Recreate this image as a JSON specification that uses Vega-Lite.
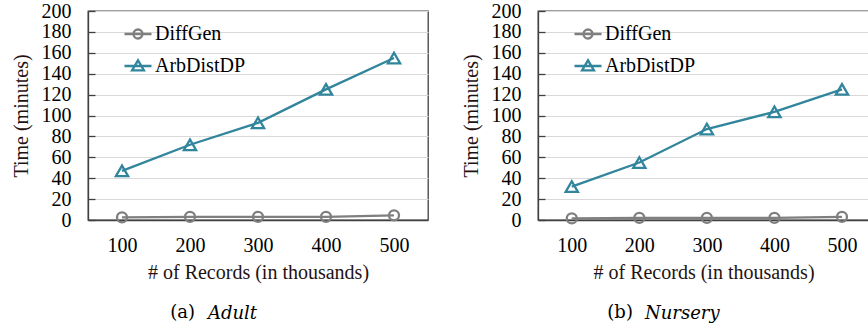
{
  "$schema": "https://vega.github.io/schema/vega-lite/v6.json",
  "padding": {"left": 10, "top": 0, "right": 0, "bottom": 0},
  "background": "white",
  "config": {
    "font": "'Liberation Serif', serif",
    "view": {"stroke": "#404040", "strokeWidth": 1.3},
    "axis": {
      "labelFont": "'Liberation Serif', serif", "labelFontSize": 20, "labelColor": "#000000",
      "titleFont": "'Liberation Serif', serif", "titleFontSize": 20, "titleFontWeight": "normal", "titleColor": "#1f1212",
      "domainColor": "#404040", "domainWidth": 1.3
    },
    "legend": {
      "orient": "none", "legendX": 35, "legendY": 8, "padding": 0,
      "symbolSize": 729, "symbolStrokeWidth": 2.3,
      "labelFont": "'Liberation Serif', serif", "labelFontSize": 20, "labelColor": "#000000",
      "labelOffset": 2, "rowPadding": 7
    },
    "title": {"font": "'DejaVu Serif', serif", "fontSize": 18, "fontWeight": "normal", "color": "#000000", "orient": "bottom", "anchor": "start", "frame": "bounds", "align": "left"}
  },
  "datasets": {
    "adult": [
      {"records": 100, "series": "DiffGen", "time": 2.5},
      {"records": 200, "series": "DiffGen", "time": 3},
      {"records": 300, "series": "DiffGen", "time": 3},
      {"records": 400, "series": "DiffGen", "time": 3},
      {"records": 500, "series": "DiffGen", "time": 4.5},
      {"records": 100, "series": "ArbDistDP", "time": 47},
      {"records": 200, "series": "ArbDistDP", "time": 72},
      {"records": 300, "series": "ArbDistDP", "time": 93},
      {"records": 400, "series": "ArbDistDP", "time": 125},
      {"records": 500, "series": "ArbDistDP", "time": 155}
    ],
    "nursery": [
      {"records": 100, "series": "DiffGen", "time": 1.5},
      {"records": 200, "series": "DiffGen", "time": 2},
      {"records": 300, "series": "DiffGen", "time": 2},
      {"records": 400, "series": "DiffGen", "time": 2},
      {"records": 500, "series": "DiffGen", "time": 3},
      {"records": 100, "series": "ArbDistDP", "time": 32},
      {"records": 200, "series": "ArbDistDP", "time": 55},
      {"records": 300, "series": "ArbDistDP", "time": 87},
      {"records": 400, "series": "ArbDistDP", "time": 103.5},
      {"records": 500, "series": "ArbDistDP", "time": 125}
    ]
  },
  "spacing": 31,
  "resolve": {
    "scale": {"color": "independent", "shape": "independent"},
    "legend": {"color": "independent", "shape": "independent"}
  },
  "hconcat": [
    {
      "title": {"text": "(a)", "dx": 160, "offset": -20},
      "resolve": {
        "scale": {"color": "independent", "shape": "independent"},
        "legend": {"color": "independent", "shape": "independent"}
      },
      "vconcat": [
        {
          "width": 340, "height": 209,
          "data": {"name": "adult"},
          "title": {"text": "Adult", "dx": 197, "offset": 23, "fontStyle": "italic"},
          "encoding": {
            "x": {
              "field": "records", "type": "quantitative",
              "scale": {"domain": [50, 550], "nice": false, "zero": false},
              "axis": {"values": [100, 200, 300, 400, 500], "grid": false, "ticks": false,
                       "labelPadding": 15, "title": "# of Records (in thousands)", "titlePadding": 7}
            },
            "y": {
              "field": "time", "type": "quantitative",
              "scale": {"domain": [0, 200], "nice": false},
              "axis": {"values": [0, 20, 40, 60, 80, 100, 120, 140, 160, 180, 200],
                       "grid": true, "gridColor": "#d9d9d9", "gridWidth": 1,
                       "tickSize": -7, "tickColor": "#404040", "tickWidth": 1.3,
                       "labelPadding": 24, "title": "Time (minutes)", "titlePadding": 10}
            }
          },
          "layer": [
            {
              "mark": {"type": "line", "strokeWidth": 2.3},
              "encoding": {
                "color": {
                  "field": "series", "type": "nominal",
                  "scale": {"domain": ["DiffGen", "ArbDistDP"], "range": ["#7f7f7f", "#31859c"]},
                  "legend": {
                    "title": null,
                    "encode": {"symbols": {"update": {
                      "shape": {"signal": "datum.value === 'DiffGen' ? 'M-1,0L1,0M-0.333,0A0.333,0.333 0 1,1 0.333,0A0.333,0.333 0 1,1 -0.333,0Z' : 'M-1,0L1,0M-0.44,0.33L0.44,0.33L0,-0.42Z'"},
                      "fill": {"value": "transparent"},
                      "strokeWidth": {"value": 2.3}
                    }}}
                  }
                }
              }
            },
            {
              "transform": [{"filter": "datum.series === 'DiffGen'"}],
              "mark": {"type": "point", "shape": "circle", "filled": false, "size": 100, "strokeWidth": 2.3, "color": "#7f7f7f", "opacity": 1}
            },
            {
              "transform": [{"filter": "datum.series === 'ArbDistDP'"}],
              "mark": {"type": "point", "shape": "triangle-up", "filled": false, "size": 150, "strokeWidth": 2.3, "color": "#31859c", "opacity": 1}
            }
          ]
        }
      ]
    },
    {
      "title": {"text": "(b)", "dx": 147, "offset": -20},
      "resolve": {
        "scale": {"color": "independent", "shape": "independent"},
        "legend": {"color": "independent", "shape": "independent"}
      },
      "vconcat": [
        {
          "width": 331, "height": 209,
          "data": {"name": "nursery"},
          "title": {"text": "Nursery", "dx": 184, "offset": 23, "fontStyle": "italic"},
          "encoding": {
            "x": {
              "field": "records", "type": "quantitative",
              "scale": {"domain": [50, 540], "nice": false, "zero": false},
              "axis": {"values": [100, 200, 300, 400, 500], "grid": false, "ticks": false,
                       "labelPadding": 15, "title": "# of Records (in thousands)", "titlePadding": 7}
            },
            "y": {
              "field": "time", "type": "quantitative",
              "scale": {"domain": [0, 200], "nice": false},
              "axis": {"values": [0, 20, 40, 60, 80, 100, 120, 140, 160, 180, 200],
                       "grid": true, "gridColor": "#d9d9d9", "gridWidth": 1,
                       "tickSize": -7, "tickColor": "#404040", "tickWidth": 1.3,
                       "labelPadding": 24, "title": "Time (minutes)", "titlePadding": 10}
            }
          },
          "layer": [
            {
              "mark": {"type": "line", "strokeWidth": 2.3},
              "encoding": {
                "color": {
                  "field": "series", "type": "nominal",
                  "scale": {"domain": ["DiffGen", "ArbDistDP"], "range": ["#7f7f7f", "#31859c"]},
                  "legend": {
                    "title": null,
                    "encode": {"symbols": {"update": {
                      "shape": {"signal": "datum.value === 'DiffGen' ? 'M-1,0L1,0M-0.333,0A0.333,0.333 0 1,1 0.333,0A0.333,0.333 0 1,1 -0.333,0Z' : 'M-1,0L1,0M-0.44,0.33L0.44,0.33L0,-0.42Z'"},
                      "fill": {"value": "transparent"},
                      "strokeWidth": {"value": 2.3}
                    }}}
                  }
                }
              }
            },
            {
              "transform": [{"filter": "datum.series === 'DiffGen'"}],
              "mark": {"type": "point", "shape": "circle", "filled": false, "size": 100, "strokeWidth": 2.3, "color": "#7f7f7f", "opacity": 1}
            },
            {
              "transform": [{"filter": "datum.series === 'ArbDistDP'"}],
              "mark": {"type": "point", "shape": "triangle-up", "filled": false, "size": 150, "strokeWidth": 2.3, "color": "#31859c", "opacity": 1}
            }
          ]
        }
      ]
    }
  ]
}
